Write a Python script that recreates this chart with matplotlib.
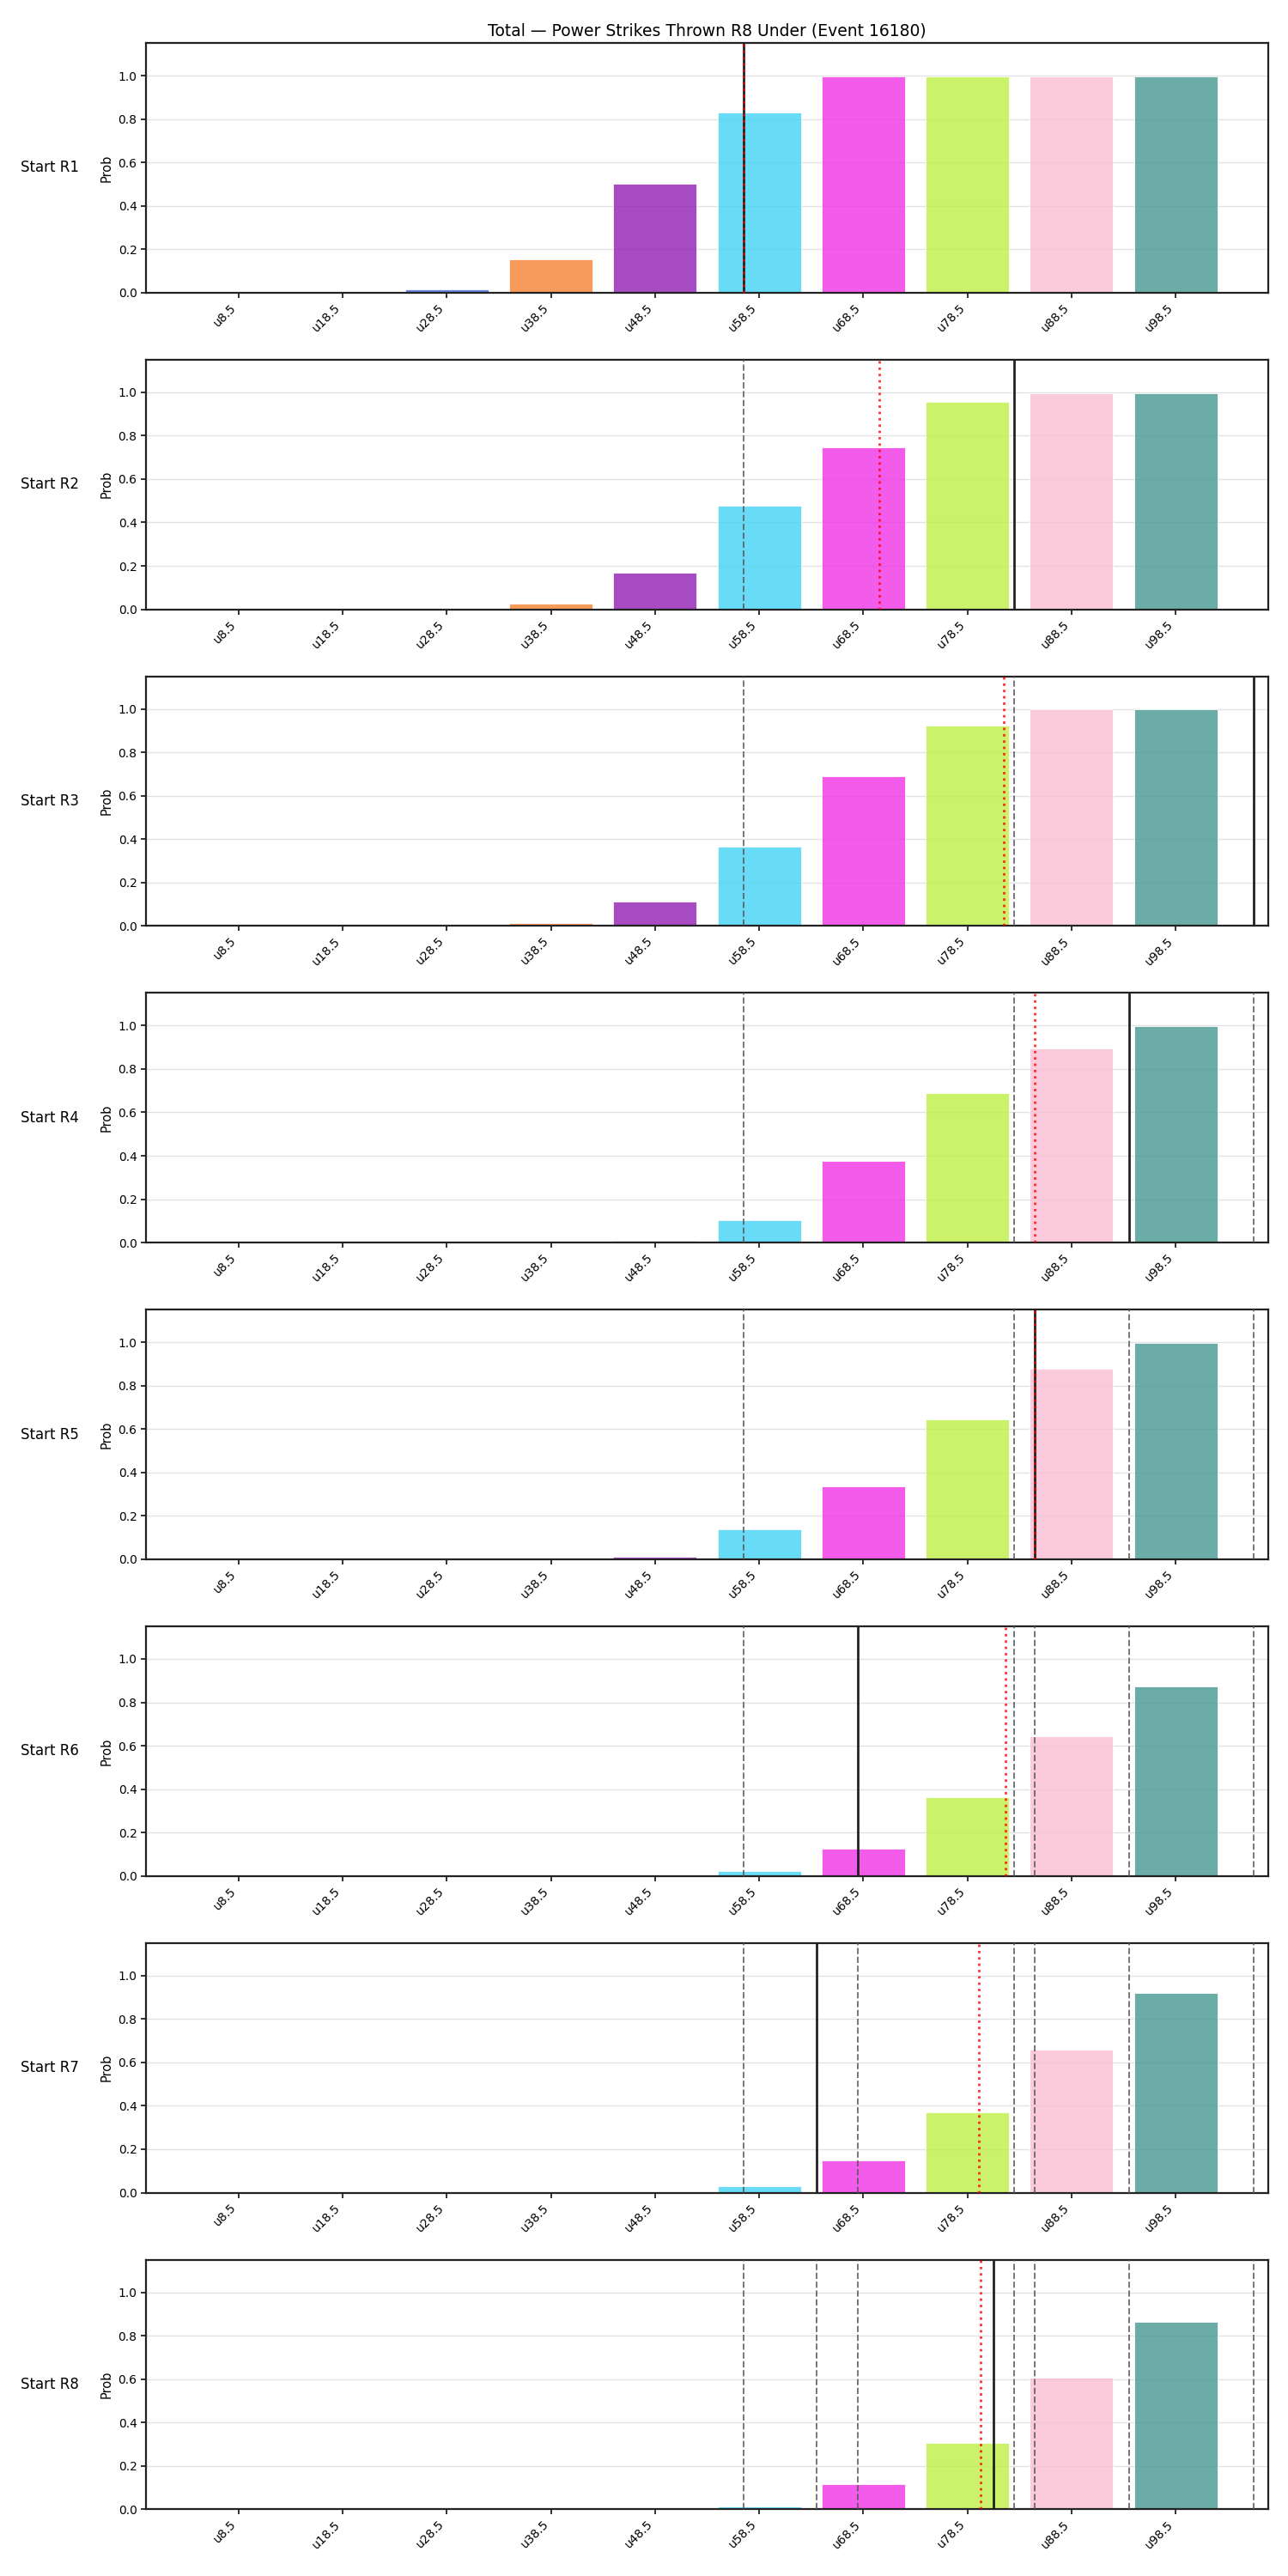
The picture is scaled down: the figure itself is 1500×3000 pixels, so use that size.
import matplotlib
matplotlib.use("Agg")
import matplotlib.pyplot as plt
import numpy as np

# ---- data ----
categories = ["u8.5", "u18.5", "u28.5", "u38.5", "u48.5", "u58.5", "u68.5", "u78.5", "u88.5", "u98.5"]
thresholds = [8.5, 18.5, 28.5, 38.5, 48.5, 58.5, 68.5, 78.5, 88.5, 98.5]
bar_colors = ["#3cb44b", "#ffe119", "#4363d8", "#f58231", "#911eb4",
              "#42d4f4", "#f032e6", "#bfef45", "#fabed4", "#469990"]
row_labels = ["Start R1", "Start R2", "Start R3", "Start R4",
              "Start R5", "Start R6", "Start R7", "Start R8"]

prob_r1 = [0.0, 0.0, 0.015, 0.153, 0.503, 0.831, 0.998, 0.998, 0.998, 0.998]
prob_r2 = [0.0, 0.0, 0.0, 0.026, 0.167, 0.478, 0.747, 0.956, 0.997, 0.997]
prob_r3 = [0.0, 0.0, 0.0, 0.015, 0.113, 0.367, 0.691, 0.925, 0.997, 0.997]
prob_r4 = [0.0, 0.0, 0.0, 0.002, 0.009, 0.104, 0.376, 0.688, 0.893, 0.997]
prob_r5 = [0.0, 0.0, 0.0, 0.0, 0.010, 0.140, 0.335, 0.644, 0.877, 0.997]
prob_r6 = [0.0, 0.0, 0.0, 0.0, 0.0, 0.021, 0.124, 0.362, 0.644, 0.874]
prob_r7 = [0.0, 0.0, 0.0, 0.0, 0.002, 0.029, 0.148, 0.370, 0.660, 0.918]
prob_r8 = [0.0, 0.0, 0.0, 0.0, 0.0, 0.012, 0.116, 0.306, 0.606, 0.863]
probs = [prob_r1, prob_r2, prob_r3, prob_r4, prob_r5, prob_r6, prob_r7, prob_r8]

# actual totals per round (solid line) and running mean (red dotted)
actual_totals = [57, 83, 106, 94, 85, 68, 64, 81]
running_mean = [57.0, 70.0, 82.0, 85.0, 85.0, 82.17, 79.57, 79.75]

title = "Total \u2014 Power Strikes Thrown R8 Under (Event 16180)"

# ---- plot ----
fig, axes = plt.subplots(8, 1, figsize=(15, 30), dpi=100)
fig.subplots_adjust(left=0.1133, right=0.9847, top=0.9833, bottom=0.0259, hspace=0.2687)

x = np.arange(len(categories))
t0, step = thresholds[0], thresholds[1] - thresholds[0]


def to_pos(v):
    return (v - t0) / step


for i, ax in enumerate(axes):
    ax.bar(x, probs[i], width=0.8, color=bar_colors, alpha=0.8,
           edgecolor="white", linewidth=0.7, zorder=2)
    ax.set_ylim(0, 1.15)
    ax.set_yticks([0.0, 0.2, 0.4, 0.6, 0.8, 1.0])
    ax.set_xticks(x)
    ax.set_xticklabels(categories, rotation=45, ha="right", fontsize=10)
    ax.tick_params(axis="y", labelsize=10)
    ax.grid(axis="y", color="#e3e3e3", linewidth=1.0, zorder=0)
    ax.set_axisbelow(True)
    for sp in ax.spines.values():
        sp.set_linewidth(1.6)
        sp.set_color("#222222")
    ax.tick_params(width=1.3, color="#222222", length=4)
    ax.set_ylabel("Prob", fontsize=10.5)
    ax.text(-0.06, 0.5, row_labels[i], transform=ax.transAxes,
            ha="right", va="center", fontsize=12)

    for j in range(i):
        ax.axvline(to_pos(actual_totals[j]), color="#555555", linestyle="--",
                   linewidth=1.4, alpha=0.8, zorder=3)
    ax.axvline(to_pos(actual_totals[i]), color="#222222", linestyle="-",
               linewidth=2.0, zorder=4)
    ax.axvline(to_pos(running_mean[i]), color="red", linestyle=":",
               linewidth=2.0, alpha=0.8, zorder=5)

axes[0].set_title(title, fontsize=13.5)

fig.savefig("out.png", dpi=100)
